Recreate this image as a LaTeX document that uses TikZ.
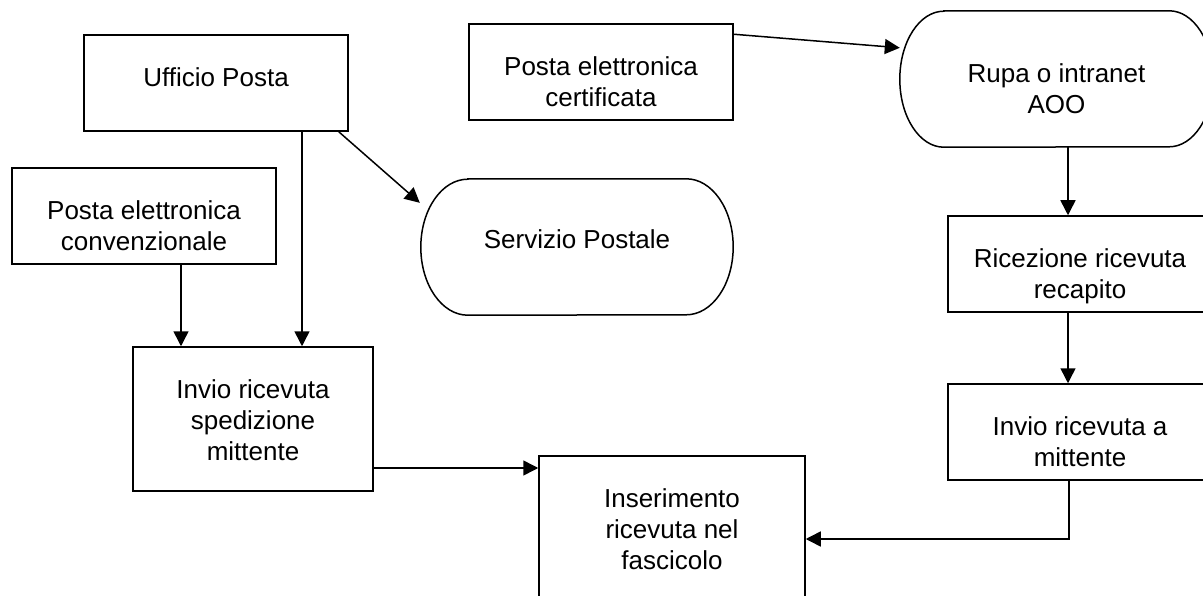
\documentclass[tikz,border=0pt]{standalone}
\usepackage{fontspec}
\setmainfont{Liberation Sans}
\usetikzlibrary{arrows.meta,calc}
\newcommand{\fsz}{\fontsize{26}{31}\selectfont}
\tikzset{
  ln/.style={line width=1.5pt, black},
  boxr/.style={draw, ln, rectangle, inner sep=0pt, anchor=center},
  ghost/.style={draw=none, rectangle, inner sep=0pt, anchor=center},
  txt/.style={anchor=north, inner sep=0pt, align=center, font=\fsz},
  arr/.style={ln, -{Triangle[length=15pt,width=15pt]}},
}
\begin{document}
\begin{tikzpicture}[x=1pt, y=-1pt]
\useasboundingbox (0,0) rectangle (1203,596);
% boxes
\node[boxr, minimum width=264pt, minimum height=96pt] (uff) at (216,83) {};
\node[boxr, minimum width=264pt, minimum height=96pt] (conv) at (144,216) {};
\node[boxr, minimum width=264pt, minimum height=96pt] (cert) at (601,72) {};
\node[ghost, minimum width=312pt, minimum height=136pt] (serv) at (577,247) {};
\node[ghost, minimum width=313pt, minimum height=136pt] (rupa) at (1056.5,79) {};
\node[boxr, minimum width=264pt, minimum height=96pt] (ric) at (1080,264) {};
\node[boxr, minimum width=264pt, minimum height=96pt] (inv2) at (1080,432) {};
\node[boxr, minimum width=240pt, minimum height=144pt] (inv1) at (253,419) {};
\node[boxr, minimum width=266pt, minimum height=144pt] (ins) at (672,528) {};
% stadium outlines
\draw[ln] ([xshift=47pt]serv.north west) -- ([xshift=-47pt]serv.north east)
  arc[start angle=90, end angle=-90, x radius=47pt, y radius=68pt]
  -- ([xshift=47pt]serv.south west)
  arc[start angle=270, end angle=90, x radius=47pt, y radius=68pt] -- cycle;
\draw[ln] ([xshift=44pt]rupa.north west) -- ([xshift=-44pt]rupa.north east)
  arc[start angle=90, end angle=-90, x radius=44pt, y radius=68pt]
  -- ([xshift=44pt]rupa.south west)
  arc[start angle=270, end angle=90, x radius=44pt, y radius=68pt] -- cycle;
% texts
\node[txt] (tuff) at ([shift={(0,30)}]uff.north) {\strut Ufficio Posta};
\node[txt] (tconv) at ([shift={(0,30)}]conv.north) {\strut Posta elettronica\\convenzionale};
\node[txt] (tcert) at ([shift={(0,30)}]cert.north) {\strut Posta elettronica\\certificata};
\node[txt] (tserv) at ([shift={(0,48)}]serv.north) {\strut Servizio Postale};
\node[txt] (trupa) at ([shift={(0,50)}]rupa.north) {\strut Rupa o intranet\\AOO};
\node[txt] (tric) at ([shift={(0,30)}]ric.north) {\strut Ricezione ricevuta\\recapito};
\node[txt] (tinv2) at ([shift={(0,30)}]inv2.north) {\strut Invio ricevuta a\\mittente};
\node[txt] (tinv1) at ([shift={(0,30)}]inv1.north) {\strut Invio ricevuta\\spedizione\\mittente};
\node[txt] (tins) at ([shift={(0,30)}]ins.north) {\strut Inserimento\\ricevuta nel\\fascicolo};
% connectors
\draw[arr] ([shift={(86,0)}]uff.south) -- ([shift={(86,0)}]uff.south |- inv1.north);
\draw[arr] ([shift={(37,0)}]conv.south) -- ([shift={(37,0)}]conv.south |- inv1.north);
\draw[arr] ([shift={(-10,0)}]uff.south east) -- ([shift={(-1,24)}]serv.north west);
\draw[arr] ([shift={(0,11)}]cert.north east) -- ([shift={(0,37)}]rupa.north west);
\draw[arr] ([shift={(11.5,0)}]rupa.south) -- ([shift={(11.5,0)}]rupa.south |- ric.north);
\draw[arr] ([shift={(-12,0)}]ric.south) -- ([shift={(-12,0)}]ric.south |- inv2.north);
\draw[arr] ([shift={(-11,0)}]inv2.south) |- ([shift={(0,11)}]ins.east);
\draw[arr] ([shift={(0,49)}]inv1.east) -- ([shift={(0,49)}]inv1.east -| ins.west);
\end{tikzpicture}
\end{document}
